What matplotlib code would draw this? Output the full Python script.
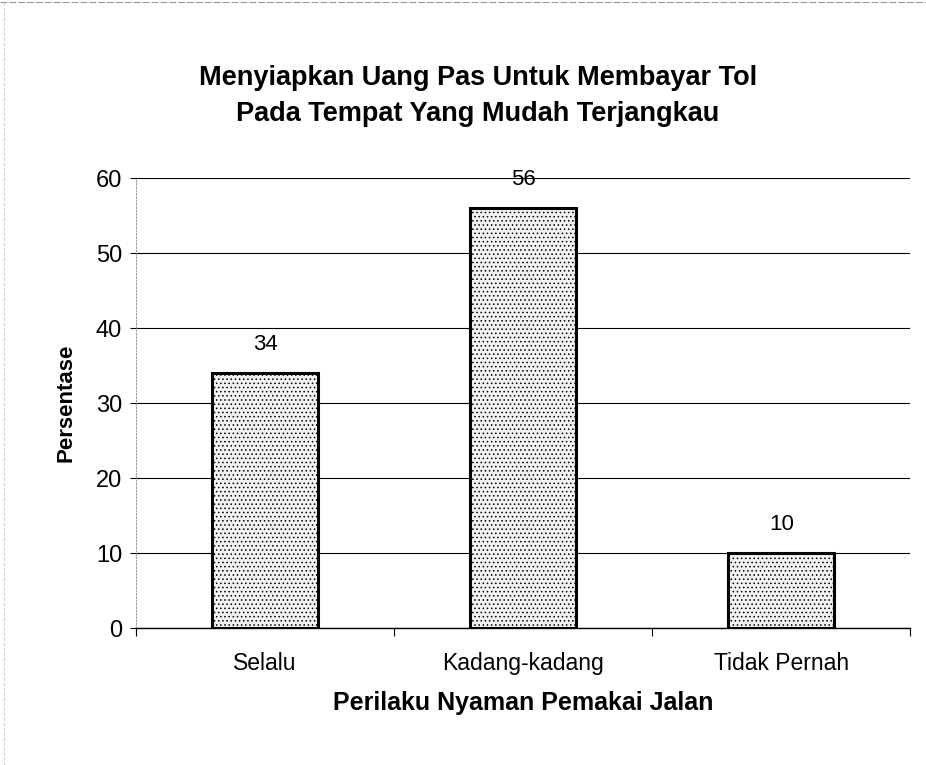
import matplotlib.pyplot as plt
from matplotlib.lines import Line2D

categories = ["Selalu", "Kadang-kadang", "Tidak Pernah"]
persentase = [34, 56, 10]
y_ticks = [0, 10, 20, 30, 40, 50, 60]

plt.rcParams["font.family"] = ["Liberation Sans", "DejaVu Sans"]
plt.rcParams["hatch.color"] = "#8a8a8a"
plt.rcParams["hatch.linewidth"] = 0.6

fig = plt.figure(figsize=(9.26, 7.65), dpi=100)
ax = fig.add_axes([0.147, 0.179, 0.836, 0.588])

x = list(range(len(categories)))
bars = ax.bar(x, persentase, width=0.41, color="#f2f2f2", edgecolor="black",
              linewidth=2.2, hatch="....", zorder=3)

for b, v in zip(bars, persentase):
    ax.annotate(str(v), (b.get_x() + b.get_width() / 2, v), xytext=(0, 13),
                textcoords="offset points", ha="center", va="bottom", fontsize=16)

ax.set_xlim(-0.5, 2.5)
ax.set_ylim(0, 60)
ax.set_yticks(y_ticks)
ax.tick_params(axis="y", labelsize=17, length=4, width=0.8, pad=6)
ax.set_xticks([-0.5, 0.5, 1.5, 2.5])
ax.set_xticklabels([])
ax.set_xticks(x, minor=True)
ax.set_xticklabels(categories, minor=True, fontsize=16.5)
ax.tick_params(axis="x", which="major", length=6, width=0.8, direction="out")
ax.tick_params(axis="x", which="minor", length=0, pad=17)

ax.yaxis.grid(True, color="black", linewidth=0.8, zorder=0)
ax.set_axisbelow(True)
for s in ["top", "right"]:
    ax.spines[s].set_visible(False)
ax.spines["left"].set_linestyle((0, (2, 2)))
ax.spines["left"].set_color("#888888")
ax.spines["left"].set_linewidth(0.6)
ax.spines["bottom"].set_linewidth(1.0)

ax.set_ylabel("Persentase", fontsize=16, fontweight="bold", labelpad=14)
ax.set_xlabel("Perilaku Nyaman Pemakai Jalan", fontsize=18, fontweight="bold", labelpad=12)

fig.text(0.516, 0.875, "Menyiapkan Uang Pas Untuk Membayar Tol\nPada Tempat Yang Mudah Terjangkau",
         ha="center", va="center", fontsize=19.5, fontweight="bold", linespacing=1.5)

# faint scan border at top and left
fig.add_artist(Line2D([0, 1], [0.997, 0.997], transform=fig.transFigure,
                      color="#999999", linewidth=0.8, linestyle=(0, (6, 2))))
fig.add_artist(Line2D([0.004, 0.004], [0, 1], transform=fig.transFigure,
                      color="#bbbbbb", linewidth=0.6, linestyle=(0, (3, 3))))

fig.savefig("out.png", dpi=100)
